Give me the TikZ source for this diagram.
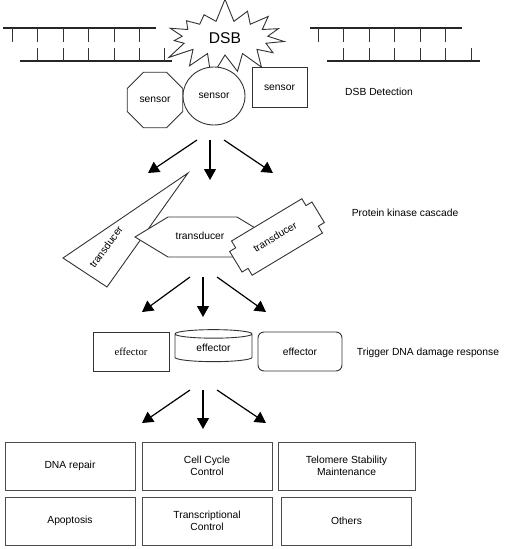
\documentclass[tikz,border=0pt]{standalone}
\usepackage{fontspec}
\setmainfont{Liberation Sans}
\newfontfamily\timesfont{Liberation Serif}
\usetikzlibrary{arrows.meta,positioning,shapes.geometric,shapes.symbols}

\begin{document}
\begin{tikzpicture}[
    x=1pt, y=-1pt,
    font=\fontsize{10.3}{11.7}\selectfont,
    outline/.style={draw=black!80, line width=0.9pt, fill=white, inner sep=0pt},
    strand/.style={line width=2.6pt, black!85},
    rung/.style={line width=1pt, black!80},
    arrow/.style={-{Triangle[length=11pt,width=12pt]}, line width=1.2pt},
    outcome/.style={draw=black!70, line width=1pt, minimum width=130pt, minimum height=48pt, align=center, inner sep=2pt}
]
\useasboundingbox (0,0) rectangle (505,549);

% broken double strand
\draw[strand] (3,28) -- (156,28);
\draw[strand] (20,61) -- (172,61);
\foreach \x in {12,37,63,88,114,139} \draw[rung] (\x,28) -- (\x,42);
\foreach \x in {37,63,88,114,139,164} \draw[rung] (\x,61) -- (\x,48);
\draw[strand] (310,28) -- (462,28);
\draw[strand] (327,61) -- (480,61);
\foreach \x in {318,343,369,394,420,445} \draw[rung] (\x,28) -- (\x,42);
\foreach \x in {343,369,394,420,445,471} \draw[rung] (\x,61) -- (\x,48);

\node[outline, starburst, starburst points=15, starburst point height=24pt, random starburst=7,
      minimum width=134pt, minimum height=82pt, font=\fontsize{15.6}{18}\selectfont] (dsb) at (225,38) {DSB};

% sensors
\node[outline, ellipse, minimum width=62pt, minimum height=58pt] (sensorB) at (214,96) {sensor};
\node[outline, regular polygon, regular polygon sides=8, minimum size=60pt] (sensorA) at (155,100) {sensor};
\node[outline, rectangle, minimum width=55pt, minimum height=40pt] (sensorC) at (279.5,87.5) {sensor};
\node (detect) at (379,92) {DSB Detection};

\coordinate (fanA) at (210,140);
\draw[arrow] ([xshift=-13pt]fanA) -- ++(-49,33);
\draw[arrow] (fanA) -- ++(0,40);
\draw[arrow] ([xshift=14pt]fanA) -- ++(49,33);

% transducers
\draw[outline] (188,173) -- (63,258) -- (107,287) -- cycle;
\node[rotate=54] (transA) at (106,247) {transducer};
\draw[outline] (135,237) -- (168,217) -- (237,217) -- (270,237) -- (237,257) -- (168,257) -- cycle;
\node (transB) at (200,236) {transducer};
\begin{scope}[shift={(277,237)}, rotate=31]
  \draw[outline] (-41,-20) -- (41,-20) -- (41,-12) -- (48,-12) -- (48,12) -- (41,12) -- (41,20)
     -- (-41,20) -- (-41,12) -- (-48,12) -- (-48,-12) -- (-41,-12) -- cycle;
\end{scope}
\node[rotate=31] (transC) at (275,237) {transducer};
\node (cascade) at (405,213) {Protein kinase cascade};

\coordinate (fanB) at (203,277);
\draw[arrow] ([xshift=-13pt]fanB) -- ++(-48,35);
\draw[arrow] (fanB) -- ++(0,40);
\draw[arrow] ([xshift=14pt]fanB) -- ++(49,35);

% effectors
\node[outline, minimum width=76pt, minimum height=39pt, font=\timesfont\fontsize{10.6}{12}\selectfont] (effA) at (131,351.5) {effector};
\node[outline, cylinder, shape border rotate=90, aspect=0.25, minimum width=77pt, minimum height=32pt] (effB) at (213.5,348) {effector};
\node[outline, rounded corners=6pt, minimum width=84pt, minimum height=39pt] (effC) at (300,351.5) {effector};
\node (trigger) at (428,353) {Trigger DNA damage response};

\coordinate (fanC) at (203,390);
\draw[arrow] ([xshift=-13pt]fanC) -- ++(-48,33);
\draw[arrow] (fanC) -- ++(0,39);
\draw[arrow] ([xshift=14pt]fanC) -- ++(49,33);

% responses
\node[outcome] (repair) at (70,466) {DNA repair};
\node[outcome, right=6pt of repair] (cycle) {Cell Cycle\\Control};
\node[outcome, right=5pt of cycle, minimum width=137pt] (telomere) {Telomere Stability\\Maintenance};
\node[outcome, below=6pt of repair] (apoptosis) {Apoptosis};
\node[outcome, below=6pt of cycle] (transcription) {Transcriptional\\Control};
\node[outcome, below=6pt of telomere] (others) {Others};
\end{tikzpicture}
\end{document}
